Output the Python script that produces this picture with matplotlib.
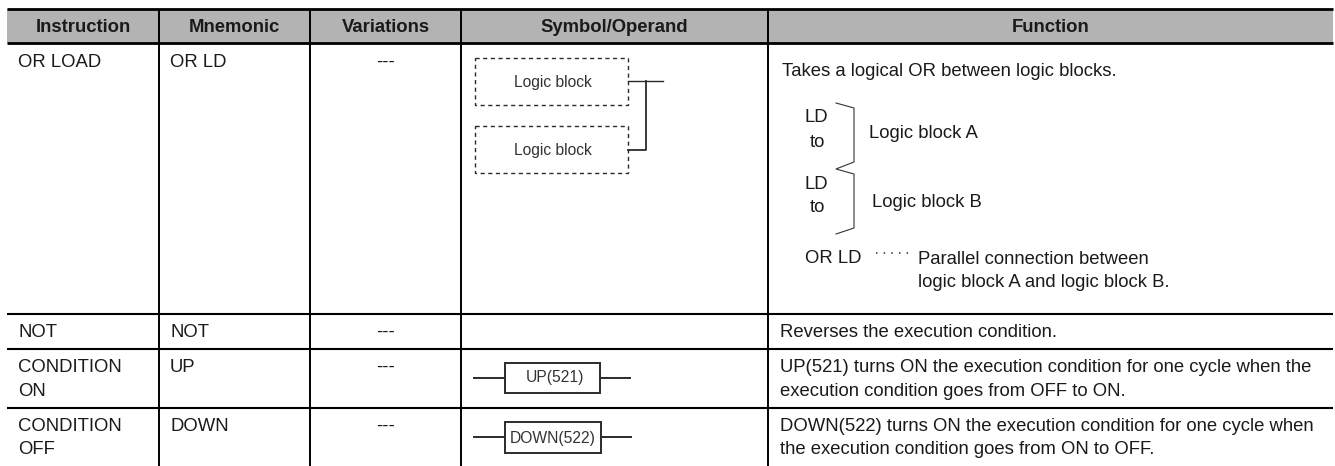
import matplotlib
matplotlib.use("Agg")
import matplotlib.pyplot as plt
from matplotlib.patches import Rectangle

plt.rcParams['font.family'] = ['Liberation Sans', 'DejaVu Sans']

# table content
headers = ["Instruction", "Mnemonic", "Variations", "Symbol/Operand", "Function"]
instructions = [["OR LOAD"], ["NOT"], ["CONDITION", "ON"], ["CONDITION", "OFF"]]
mnemonics = ["OR LD", "NOT", "UP", "DOWN"]
variations = ["---", "---", "---", "---"]
functions = [["Takes a logical OR between logic blocks."],
             ["Reverses the execution condition."],
             ["UP(521) turns ON the execution condition for one cycle when the",
              "execution condition goes from OFF to ON."],
             ["DOWN(522) turns ON the execution condition for one cycle when",
              "the execution condition goes from ON to OFF."]]

# layout in pixels
col_x = [7, 159, 310, 461, 768, 1333]
row_y = [314, 349, 408]
base_y = [[67], [337], [372, 396], [431, 454]]
func_base_y = [[76], [337], [372, 396], [431, 454]]
fs = 13.3
small = 11.25
ink = '#1a1a1a'
sym = '#2b2b2b'

fig = plt.figure(figsize=(13.35, 4.66), dpi=100)
ax = fig.add_axes([0, 0, 1, 1])
ax.set_xlim(0, 1335)
ax.set_ylim(466, 0)
ax.axis('off')

ax.add_patch(Rectangle((col_x[0], 9), col_x[-1] - col_x[0], 34, fc='#b3b3b3', ec='none'))
for x in col_x[1:-1]:
    ax.plot([x, x], [9, 466], color='black', lw=1.4, solid_capstyle='butt')
for y in [8.7, 43]:
    ax.plot([col_x[0], col_x[-1]], [y, y], color='black', lw=2.0, solid_capstyle='butt')
for y in row_y:
    ax.plot([col_x[0], col_x[-1]], [y, y], color='black', lw=1.5, solid_capstyle='butt')

for i, h in enumerate(headers):
    ax.text((col_x[i] + col_x[i + 1]) / 2, 32, h, ha='center', va='baseline', fontsize=fs, fontweight='bold', color=ink)


def body(x, y, s):
    ax.text(x, y, s, va='baseline', fontsize=fs, color=ink)


for i in range(4):
    for line, y in zip(instructions[i], base_y[i]):
        body(18, y, line)
    body(170, base_y[i][0], mnemonics[i])
    ax.text(385.5, base_y[i][0], variations[i], ha='center', va='baseline', fontsize=fs, color=ink)
    for line, y in zip(functions[i], func_base_y[i]):
        body(782 if i == 0 else 780, y, line)

# OR LOAD symbol
for top, base in [(58, 87), (126, 155)]:
    ax.add_patch(Rectangle((475, top), 153, 47, fc='none', ec=sym, lw=1.0, ls=(0, (3, 2.5))))
    ax.text(553, base, "Logic block", ha='center', va='baseline', fontsize=small, color='#333333')
ax.plot([628, 663], [81, 81], color=sym, lw=1.0)
ax.plot([646, 646, 628], [81, 150, 150], color=sym, lw=1.3)

# UP / DOWN symbols
ax.add_patch(Rectangle((505, 363), 95, 30, fc='none', ec=sym, lw=1.4))
ax.plot([474, 505], [378, 378], color=sym, lw=1.4)
ax.plot([600, 630], [378, 378], color=sym, lw=1.4)
ax.text(555, 382, "UP(521)", ha='center', va='baseline', fontsize=small, color='#333333')
ax.add_patch(Rectangle((505, 422), 96, 31, fc='none', ec=sym, lw=1.4))
ax.plot([474, 505], [437, 437], color=sym, lw=1.4)
ax.plot([601, 631], [437, 437], color=sym, lw=1.4)
ax.text(553, 443, "DOWN(522)", ha='center', va='baseline', fontsize=small, color='#333333')

# logic block brace in the function column
ax.plot([836, 854, 854, 836, 854, 854, 836], [103, 108, 162, 169, 174, 228, 234], color='#333333', lw=0.8)
body(805, 122, "LD")
body(810, 147, "to")
body(805, 189, "LD")
body(810, 212, "to")
body(869, 138, "Logic block A")
body(872, 207, "Logic block B")
body(805, 263, "OR LD")
ax.plot([876, 909], [253, 253], color='#333333', lw=1.1, ls=(0, (1, 4)))
body(918, 264, "Parallel connection between")
body(918, 287, "logic block A and logic block B.")

fig.savefig('out.png', dpi=100)
